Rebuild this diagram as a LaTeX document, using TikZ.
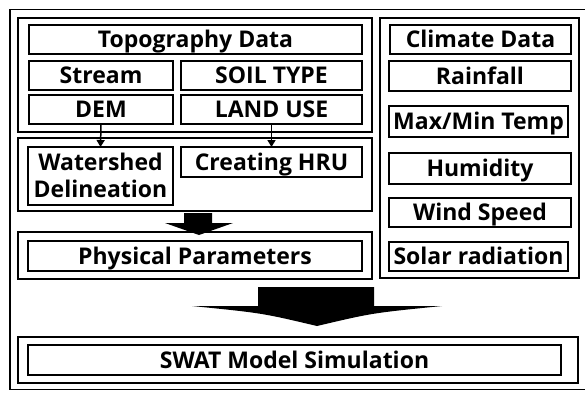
\documentclass[tikz,border=0pt]{standalone}
\usepackage{fontspec}
\setmainfont{Open Sans}
\usetikzlibrary{arrows.meta}

\begin{document}
\begin{tikzpicture}[x=1pt, y=-1pt,
    every node/.style={inner sep=0pt, outer sep=0pt},
    box/.style={draw, line width=1.8pt, align=center, text height=16.5pt, text depth=0pt,
        font=\bfseries\fontsize{23}{27}\selectfont},
    group/.style={draw, line width=2pt},
    flow/.style={-{Triangle[length=7pt, width=8pt]}, line width=1.5pt}]
    \useasboundingbox (0,0) rectangle (585,392);

    % 1. outer frame and the group boxes
    \node[group, line width=1.6pt, minimum width=578, minimum height=380] (frame) at (299,199.5) {};
    \node[group, minimum width=354, minimum height=114] (topogroup) at (195,75) {};
    \node[group, minimum width=354, minimum height=73] (procgroup) at (195,174.5) {};
    \node[group, minimum width=354, minimum height=47] (physgroup) at (195,255.5) {};
    \node[group, minimum width=199, minimum height=260] (climgroup) at (479.5,148) {};
    \node[group, minimum width=560, minimum height=46] (swatgroup) at (298,360) {};

    % 2. topography inputs
    \node[box, minimum width=333, minimum height=29] (topo) at (195.5,39.5) {Topography Data};
    \node[box, minimum width=144, minimum height=29] (stream) at (101,75.5) {Stream};
    \node[box, minimum width=181, minimum height=29] (soil) at (271.5,75.5) {SOIL TYPE};
    \node[box, minimum width=144, minimum height=29] (dem) at (101,109.5) {DEM};
    \node[box, minimum width=181, minimum height=29] (landuse) at (271.5,109.5) {LAND USE};

    % 3. processing steps
    \node[box, text height=43.5pt, minimum width=145, minimum height=58] (shed) at (100.5,176) {Watershed\\Delineation};
    \node[box, minimum width=181, minimum height=30] (hru) at (271.5,162) {Creating HRU};
    \node[box, minimum width=334, minimum height=30] (phys) at (195,256) {Physical Parameters};

    % 4. climate inputs
    \node[box, minimum width=181, minimum height=29] (clim) at (480.5,39.5) {Climate Data};
    \node[box, minimum width=182, minimum height=30] (rain) at (480,76) {Rainfall};
    \node[box, minimum width=179, minimum height=31] (temp) at (478.5,121.5) {Max/Min Temp};
    \node[box, minimum width=182, minimum height=31] (humid) at (480,168.5) {Humidity};
    \node[box, minimum width=182, minimum height=29] (wind) at (480,212.5) {Wind Speed};
    \node[box, minimum width=179, minimum height=29] (solar) at (478.5,256.5) {Solar radiation};

    % 5. model run
    \node[box, minimum width=533, minimum height=30] (swat) at (294.5,360) {SWAT Model Simulation};

    % 6. thin arrows and block arrows
    \draw[flow] (dem.south) -- (shed.north);
    \draw[flow] (landuse.south) -- (hru.north);
    \fill (184,213) -- (212,213) -- (212,223) -- (233,223) -- (199,235)
        -- (165,223) -- (184,223) -- cycle;
    \fill (258,287) -- (374,287) -- (374,306) -- (442,306)
        .. controls (372,313) .. (317,326)
        .. controls (262,313) .. (192,306) -- (258,306) -- cycle;

\end{tikzpicture}
\end{document}
